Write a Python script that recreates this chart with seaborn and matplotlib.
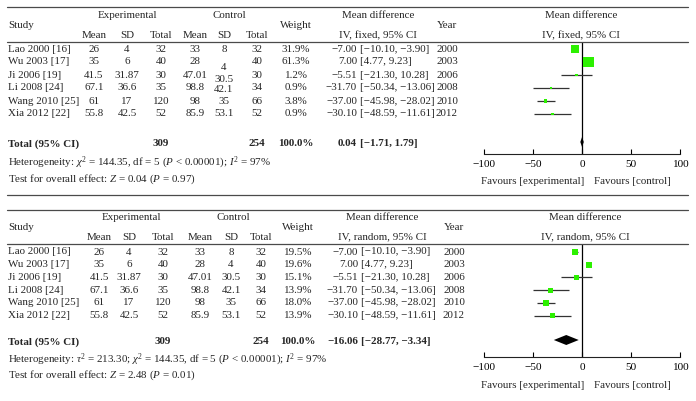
import matplotlib
matplotlib.use("Agg")
import matplotlib.pyplot as plt
from matplotlib.lines import Line2D
import seaborn as sns
import pandas as pd

# ---------------- data ----------------
studies = ["Lao 2000 [16]", "Wu 2003 [17]", "Ji 2006 [19]", "Li 2008 [24]",
           "Wang 2010 [25]", "Xia 2012 [22]"]
exp_mean = ["26", "35", "41.5", "67.1", "61", "55.8"]
exp_sd = ["4", "6", "31.87", "36.6", "17", "42.5"]
exp_n = [32, 40, 30, 35, 120, 52]
ctl_mean = ["33", "28", "47.01", "98.8", "98", "85.9"]
ctl_sd = ["8", "4", "30.5", "42.1", "35", "53.1"]
ctl_n = [32, 40, 30, 34, 66, 52]
weight_fixed = [31.9, 61.3, 1.2, 0.9, 3.8, 0.9]
weight_random = [19.5, 19.6, 15.1, 13.9, 18.0, 13.9]
md = [-7.00, 7.00, -5.51, -31.70, -37.00, -30.10]
md_lo = [-10.10, 4.77, -21.30, -50.34, -45.98, -48.59]
md_hi = [-3.90, 9.23, 10.28, -13.06, -28.02, -11.61]
years = [2000, 2003, 2006, 2008, 2010, 2012]
total_exp = 309
total_ctl = 254
fixed_total = (0.04, -1.71, 1.79)
random_total = (-16.06, -28.77, -3.34)
xticks = [-100, -50, 0, 50, 100]

# ---------------- style ----------------
sns.set_style("white")
plt.rcParams["font.family"] = ["Liberation Serif", "DejaVu Serif"]
plt.rcParams["mathtext.fontset"] = "custom"
plt.rcParams["mathtext.rm"] = "Liberation Serif"
plt.rcParams["mathtext.it"] = "Liberation Serif:italic"
plt.rcParams["mathtext.bf"] = "Liberation Serif:bold"
plt.rcParams["axes.unicode_minus"] = True

W, H = 696, 401
fig = plt.figure(figsize=(W / 100, H / 100), dpi=100)
FS = 7.9
GREEN = "#2cf000"
LINEC = "#4a4a4a"


def T(x, y, s, ha="center", bold=False, size=FS):
    fig.text(x / W, 1 - y / H, s, ha=ha, va="center", fontsize=size,
             fontweight="bold" if bold else "normal")


def hline(y, x0=7, x1=688):
    fig.add_artist(Line2D([x0 / W, x1 / W], [1 - y / H, 1 - y / H],
                          color=LINEC, lw=0.9))


def fmt(v):
    return f"{v:.2f}".replace("-", "\u2212")


def panel(L, weights, total, method, sizes, sd_offsets):
    hline(L["top"])
    hline(L["hline"])
    # headers
    T(L["cx"][0] * 0.5 + L["cx"][2] * 0.5, L["h1"], "Experimental")
    T(L["cx"][3] * 0.5 + L["cx"][5] * 0.5 + 3, L["h1"], "Control")
    T(8, L["hm"], "Study", ha="left")
    T(L["wx"], L["hm"], "Weight")
    T(L["yx"], L["hm"], "Year")
    T(L["mdc"], L["h1"], "Mean difference")
    T(L["mdc"], L["h2"], f"IV, {method}, 95% CI")
    T(L["fc"], L["h1"], "Mean difference")
    T(L["fc"], L["h2"], f"IV, {method}, 95% CI")
    for x, s in zip(L["cx"], ["Mean", "SD", "Total", "Mean", "SD", "Total"]):
        T(x, L["h2"], s)
    # rows
    for i, y in enumerate(L["rows"]):
        T(8, y, studies[i], ha="left")
        T(L["cx"][0], y, exp_mean[i])
        T(L["cx"][1], y, exp_sd[i])
        T(L["cx"][2], y, str(exp_n[i]))
        T(L["cx"][3], y, ctl_mean[i])
        T(L["cx"][4], y + sd_offsets[i], ctl_sd[i])
        T(L["cx"][5], y, str(ctl_n[i]))
        T(L["wx"], y, f"{weights[i]:.1f}%")
        T(L["mde"], y, fmt(md[i]), ha="right")
        T(L["mde"] + 3, y, f"[{fmt(md_lo[i])}, {fmt(md_hi[i])}]", ha="left")
        T(L["yx"], y, str(years[i]))
    # total
    ty = L["total"]
    T(8, ty, "Total (95% CI)", ha="left", bold=True)
    T(L["cx"][2], ty, str(total_exp), bold=True)
    T(L["cx"][5], ty, str(total_ctl), bold=True)
    T(L["wx"], ty, "100.0%", bold=True)
    T(L["mde"], ty, fmt(total[0]), ha="right", bold=True)
    T(L["mde"] + 3, ty, f"[{fmt(total[1])}, {fmt(total[2])}]", ha="left", bold=True)
    T(8, L["het"], L["het_text"], ha="left")
    T(8, L["test"], L["test_text"], ha="left")

    # forest axes (y in pixel units, inverted)
    ax = fig.add_axes([484 / W, 1 - L["axis"] / H, 196 / W, (L["axis"] - L["hline"]) / H])
    df = pd.DataFrame({"md": md, "lo": md_lo, "hi": md_hi, "w": weights,
                       "y": L["rows"]})
    ax.hlines(df["y"], df["lo"], df["hi"], color="#333333", lw=0.9, zorder=2)
    sns.scatterplot(data=df, x="md", y="y", size="w", sizes=sizes, marker="s",
                    color=GREEN, edgecolor="none", legend=False, ax=ax, zorder=3)
    ax.axvline(0, color="black", lw=0.9, zorder=1)
    e, lo, hi = total
    hh = L["dh"]
    ax.fill([lo, e, hi, e], [ty - 2, ty - 2 - hh, ty - 2, ty - 2 + hh],
            color="black", zorder=4, lw=0)
    ax.set_xlim(-100, 100)
    ax.set_ylim(L["axis"], L["hline"])
    ax.set_xlabel("")
    ax.set_ylabel("")
    ax.set_yticks([])
    ax.set_xticks(xticks)
    ax.set_xticklabels([str(t).replace("-", "\u2212") for t in xticks], fontsize=FS + 0.2)
    ax.tick_params(axis="x", direction="in", length=3.5, width=0.8, pad=4,
                   colors="black", bottom=True)
    ax.patch.set_alpha(0)
    for s in ["top", "left", "right"]:
        ax.spines[s].set_visible(False)
    ax.spines["bottom"].set_color("#222222")
    ax.spines["bottom"].set_linewidth(0.8)
    T(533, L["fav"], "Favours [experimental]")
    T(632, L["fav"], "Favours [control]")


top = dict(top=7, h1=15, hm=25, h2=36, hline=42,
           rows=[49, 62, 75, 88, 101, 114], total=144, het=163, test=179,
           axis=154, fav=182, cx=[94, 127, 161, 195, 224, 257], wx=296,
           mdc=378, mde=357, yx=447, fc=581, dh=5,
           het_text=r"Heterogeneity: $\chi^2$ = 144.35, df = 5 ($P$ < 0.00001); $I^2$ = 97%",
           test_text=r"Test for overall effect: $Z$ = 0.04 ($P$ = 0.97)")
bottom = dict(top=210, h1=217, hm=228, h2=237, hline=244,
              rows=[252, 264.7, 277.4, 290.1, 302.8, 315.5], total=342, het=360,
              test=375, axis=357, fav=385, cx=[99, 129, 163, 200, 231, 261], wx=298,
              mdc=382, mde=358, yx=454, fc=585, dh=5,
              het_text=r"Heterogeneity: $\tau^2$ = 213.30; $\chi^2$ = 144.35, df = 5 ($P$ < 0.00001); $I^2$ = 97%",
              test_text=r"Test for overall effect: $Z$ = 2.48 ($P$ = 0.01)")

panel(top, weight_fixed, fixed_total, "fixed", (3, 60), [0, 5, 4, 1, 1, 0])
hline(195)
panel(bottom, weight_random, random_total, "random", (13, 19), [0] * 6)

fig.savefig("out.png", dpi=100)
